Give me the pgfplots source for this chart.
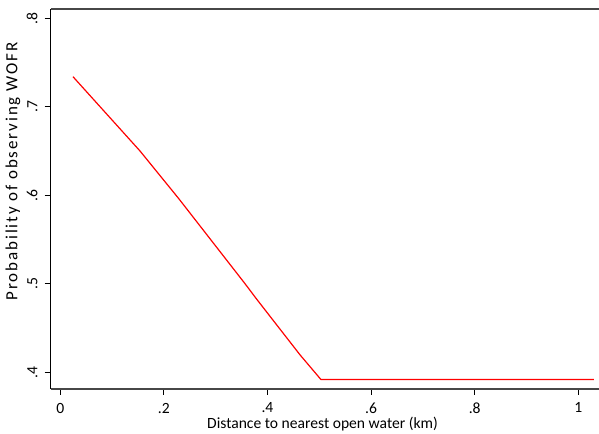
\documentclass[border=0pt]{standalone}
\usepackage{fontspec}
\setmainfont{Carlito}
\usepackage{pgfplots}
\pgfplotsset{compat=1.18}
\begin{document}
\begin{tikzpicture}
\begin{axis}[
  scale only axis,
  width=548.3bp, height=380bp,
  xmin=-0.0185, xmax=1.040,
  ymin=0.3815, ymax=0.8108,
  xtick={0,0.2,0.4,0.6,0.8,1},
  xticklabels={0,.2,.4,.6,.8,1},
  ytick={0.4,0.5,0.6,0.7,0.8},
  yticklabels={.4,.5,.6,.7,.8},
  tick align=outside,
  major tick length=6bp,
  tick style={black, line width=0.8bp},
  axis line style={draw=none},
  xtick pos=bottom, ytick pos=left,
  ticklabel style={font=\fontsize{15.6bp}{18bp}\selectfont},
  yticklabel style={rotate=90, anchor=south, inner sep=7bp},
  xticklabel style={anchor=north, inner sep=8bp},
  label style={font=\fontsize{15.6bp}{18bp}\selectfont},
  xlabel={Distance to nearest open water (km)},
  ylabel={\fontsize{17bp}{19bp}\selectfont\addfontfeature{LetterSpace=11}Probability of observing WOFR},
  xlabel style={at={(axis description cs:0.4957,-0.0921)}, anchor=center},
  ylabel style={at={(axis description cs:-0.0688,0.572)}, anchor=center},
  clip=false,
]
\addplot[red, line width=1.2bp] coordinates {
  (0.0245,0.734) (0.154,0.650) (0.229,0.596) (0.356,0.5006) (0.380,0.482)
  (0.463,0.4196) (0.503,0.392) (1.030,0.392)
};
\draw[black, line width=1.1bp] (rel axis cs:0,0) -- (rel axis cs:0,1);
\draw[black!72, line width=2.2bp] (rel axis cs:0,0) -- (rel axis cs:1,0);
\draw[black!72, line width=2.2bp] (rel axis cs:0,1) -- (rel axis cs:1,1);
\end{axis}
\pgfresetboundingbox
\path[use as bounding box] (-50.7bp,-45.3bp) rectangle (548.3bp,388.7bp);
\end{tikzpicture}
\end{document}
